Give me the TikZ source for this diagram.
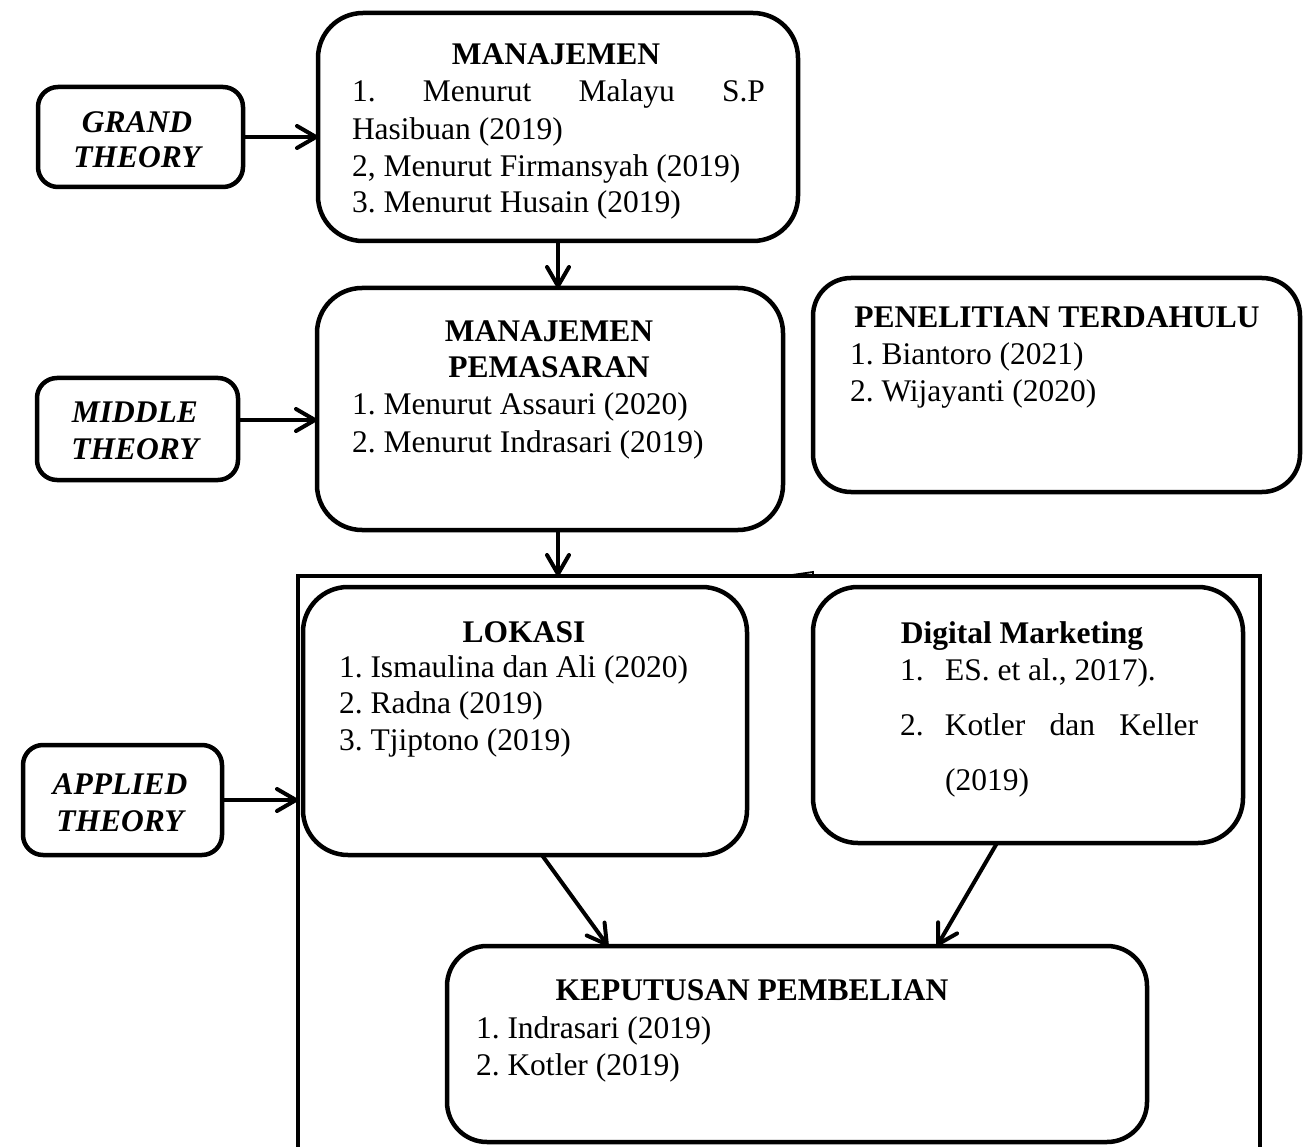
\documentclass[tikz,border=0pt]{standalone}
\usepackage{fontspec}
\setmainfont{Liberation Serif}
\usetikzlibrary{arrows.meta,calc}
\begin{document}
\frenchspacing
\begin{tikzpicture}[x=1pt,y=-1pt,
  box/.style={draw,line width=4.5pt,rounded corners=#1,inner sep=0pt,outer sep=0pt},
  box/.default=42pt,
  conn/.style={line width=4pt,-{Straight Barb[length=19pt,width=22pt,line width=4pt,round]}},
  txt/.style={inner sep=0pt,outer sep=0pt,font=\fontsize{31.5}{37}\selectfont},
  ttl/.style={txt,anchor=base,font=\fontsize{31.5}{37}\selectfont\bfseries},
  lvl/.style={txt,anchor=base,font=\fontsize{31.5}{37}\selectfont\bfseries\itshape},
  item/.style={txt,anchor=base west},
]
\useasboundingbox (0,0) rectangle (1312,1147);

% boxes
\node[box=20pt,minimum width=205pt,minimum height=100pt] (grand) at (140.5,137) {};
\node[box=45pt,minimum width=480pt,minimum height=228pt] (man) at (558,127) {};
\node[box=20pt,minimum width=201pt,minimum height=102pt] (mid) at (137.5,429) {};
\node[box=45pt,minimum width=466pt,minimum height=242pt] (mp) at (550,409) {};
\node[box=38pt,minimum width=487pt,minimum height=214pt] (pen) at (1056.5,385) {};
\node[box=20pt,minimum width=199pt,minimum height=110pt] (app) at (122.5,800) {};
\node[box=45pt,minimum width=444pt,minimum height=268pt] (lok) at (525,721) {};
\node[box=45pt,minimum width=430pt,minimum height=256pt] (dm) at (1028,715) {};
\node[box=40pt,minimum width=700pt,minimum height=196pt] (kep) at (797,1044) {};

% big open frame
\coordinate (bigNW) at (298,576);
\coordinate (bigNE) at (1260,576);
\coordinate (bigSW) at (298,1152);
\coordinate (bigSE) at (1260,1152);
\draw[line width=4.5pt] (bigSW) -- (bigNW) -- (bigNE) -- (bigSE);
\coordinate (tickA) at (792,575);
\coordinate (tickB) at (813,572);
\draw[line width=1.8pt] (tickA) -- (tickB) -- ([yshift=-3pt]tickB);

% level texts
\node[lvl] (g1) at (137,133) {GRAND};
\node[lvl] (g2) at (137,168) {THEORY};
\node[lvl] (m1) at (135,423) {MIDDLE};
\node[lvl] (m2) at (135,460) {THEORY};
\node[lvl] (a1) at (120,794) {APPLIED};
\node[lvl] (a2) at (120,831) {THEORY};

% MANAJEMEN
\node[ttl] (manT) at (556,65) {MANAJEMEN};
\node[item] (man1) at (352,102) {\makebox[413pt]{1.\hfill Menurut\hfill Malayu\hfill S.P}};
\node[item] (man2) at (352,140) {Hasibuan (2019)};
\node[item] (man3) at (352,177) {2, Menurut Firmansyah (2019)};
\node[item] (man4) at (352,213) {3. Menurut Husain (2019)};

% MANAJEMEN PEMASARAN
\node[ttl] (mpT1) at (549,342) {MANAJEMEN};
\node[ttl] (mpT2) at (549,378) {PEMASARAN};
\node[item] (mp1) at (352,415) {1. Menurut Assauri (2020)};
\node[item] (mp2) at (352,452) {2. Menurut Indrasari (2019)};

% PENELITIAN TERDAHULU
\node[ttl] (penT) at (1057,328) {PENELITIAN TERDAHULU};
\node[item] (pen1) at (850,365) {1. Biantoro (2021)};
\node[item] (pen2) at (850,402) {2. Wijayanti (2020)};

% LOKASI
\node[ttl] (lokT) at (524,642) {LOKASI};
\node[item] (lok1) at (339,677) {1. Ismaulina dan Ali (2020)};
\node[item] (lok2) at (339,713) {2. Radna (2019)};
\node[item] (lok3) at (339,750) {3. Tjiptono (2019)};

% Digital Marketing
\node[ttl] (dmT) at (1022,643) {Digital Marketing};
\node[item] (dm1n) at (900,680) {1.};
\node[item] (dm1) at (945,680) {ES. et al., 2017).};
\node[item] (dm2) at (900,735) {\makebox[45pt][l]{2.}\makebox[253pt]{Kotler\hfill dan\hfill Keller}};
\node[item] (dm3) at (945,790) {(2019)};

% KEPUTUSAN PEMBELIAN
\node[ttl] (kepT) at (752,1000) {KEPUTUSAN PEMBELIAN};
\node[item] (kep1) at (476,1038) {1. Indrasari (2019)};
\node[item] (kep2) at (476,1075) {2. Kotler (2019)};

% connectors
\draw[conn] (grand.east) -- (grand.east -| man.west);
\draw[conn] ([yshift=9pt]mid.east) -- ([yshift=9pt]mid.east -| mp.west);
\draw[conn] (app.east) -- (app.east -| bigNW);
\draw[conn] (man.south) -- (man.south |- mp.north);
\draw[conn] (mp.south -| man.south) -- (man.south |- bigNW);
\draw[conn] ($(lok.south west)!0.538!(lok.south east)$) -- ($(kep.north west)!0.23!(kep.north east)$);
\draw[conn] ($(dm.south west)!0.428!(dm.south east)$) -- ($(kep.north west)!0.70!(kep.north east)$);
\end{tikzpicture}
\end{document}
